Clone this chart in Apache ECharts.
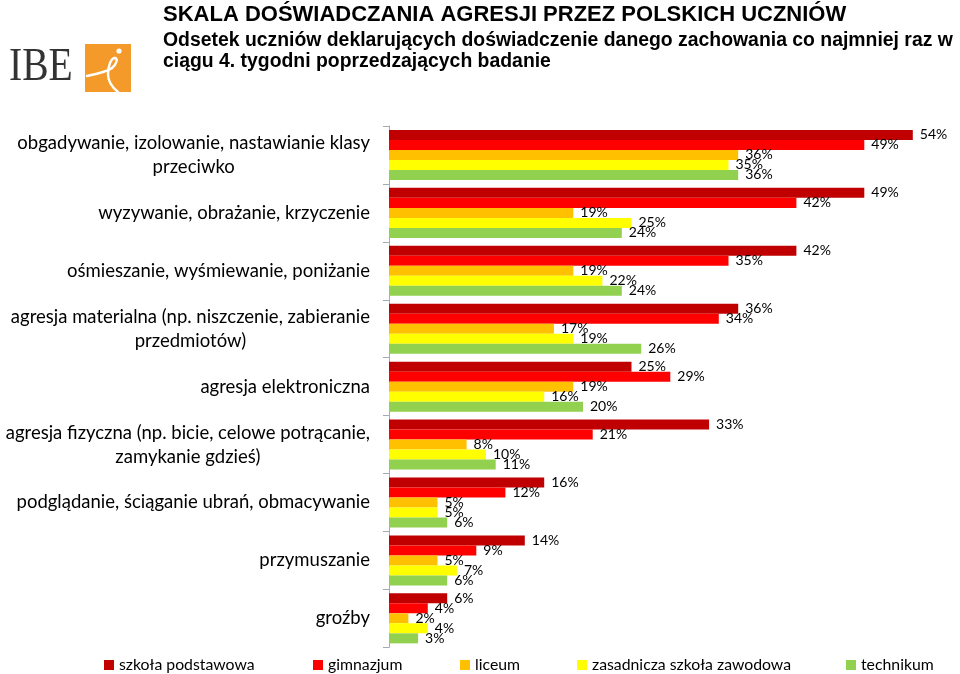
<!DOCTYPE html>
<html><head><meta charset="utf-8">
<script src="https://cdn.jsdelivr.net/npm/echarts@6/dist/echarts.min.js"></script>
<style>html,body{margin:0;padding:0;background:#fff}#c{width:960px;height:674px}</style>
</head><body><div id="c"></div>
<script>
const categories = [
  'obgadywanie, izolowanie, nastawianie klasy przeciwko',
  'wyzywanie, obrażanie, krzyczenie',
  'ośmieszanie, wyśmiewanie, poniżanie',
  'agresja materialna (np. niszczenie, zabieranie przedmiotów)',
  'agresja elektroniczna',
  'agresja fizyczna (np. bicie, celowe potrącanie, zamykanie gdzieś)',
  'podglądanie, ściąganie ubrań, obmacywanie',
  'przymuszanie',
  'groźby'
];
const seriesNames = ['szkoła podstawowa', 'gimnazjum', 'liceum', 'zasadnicza szkoła zawodowa', 'technikum'];
const szkolaPodstawowa = [54, 49, 42, 36, 25, 33, 16, 14, 6];
const gimnazjum        = [49, 42, 35, 34, 29, 21, 12, 9, 4];
const liceum           = [36, 19, 19, 17, 19, 8, 5, 5, 2];
const zasadnicza       = [35, 25, 22, 19, 16, 10, 5, 7, 4];
const technikum        = [36, 24, 24, 26, 20, 11, 6, 6, 3];
const titleText = 'SKALA DOŚWIADCZANIA AGRESJI PRZEZ POLSKICH UCZNIÓW';
const subtitleLine1 = 'Odsetek uczniów deklarujących doświadczenie danego zachowania co najmniej raz w';
const subtitleLine2 = 'ciągu 4. tygodni poprzedzających badanie';

const seriesData = [szkolaPodstawowa, gimnazjum, liceum, zasadnicza, technikum];
const colors = ['#C00000', '#FF0000', '#FFC000', '#FFFF00', '#92D050'];
const legendX = [104, 313, 460, 577, 846];

const CAT_SIZE = 18.5;
const ctx = document.createElement('canvas').getContext('2d');
ctx.font = CAT_SIZE + 'px Lato';
function wrap(text, maxW) {
  const words = text.split(' ');
  const lines = [];
  let cur = '';
  for (const w of words) {
    const t = cur ? cur + ' ' + w : w;
    if (ctx.measureText(t).width > maxW && cur) { lines.push(cur); cur = w; }
    else cur = t;
  }
  if (cur) lines.push(cur);
  return lines;
}

function curve(x1, y1, c1x, c1y, c2x, c2y, x2, y2) {
  return { type: 'bezierCurve', shape: { x1: x1, y1: y1, cpx1: c1x, cpy1: c1y, cpx2: c2x, cpy2: c2y, x2: x2, y2: y2 },
    style: { fill: null, stroke: '#fff', lineWidth: 2.4, lineCap: 'round' } };
}

const chart = echarts.init(document.getElementById('c'));
chart.setOption({
  animation: false,
  backgroundColor: '#fff',
  grid: { left: 389, right: 37.5, top: 126, bottom: 26.7, containLabel: false, outerBoundsMode: 'none' },
  xAxis: { type: 'value', min: 0, max: 55, show: false },
  yAxis: {
    type: 'category', data: categories, inverse: true,
    axisLine: { lineStyle: { color: '#a6aab5', width: 1 } },
    axisTick: { show: true, length: 6, lineStyle: { color: '#a6aab5' } },
    axisLabel: {
      interval: 0, margin: 19, hideOverlap: false,
      formatter: function (v) { return wrap(v, 375).map(l => '{c|' + l + '}').join('\n'); },
      rich: { c: { align: 'center', fontSize: CAT_SIZE, fontFamily: 'Lato', color: '#000', lineHeight: 24 } }
    }
  },
  legend: seriesNames.map((n, i) => ({
    data: [n], left: legendX[i], top: 657, padding: 0, itemWidth: 10, itemHeight: 10,
    icon: 'rect', selectedMode: false,
    textStyle: { fontSize: 15.8, fontFamily: 'Lato', color: '#000' }
  })),
  series: seriesNames.map((n, i) => ({
    name: n, type: 'bar', data: seriesData[i],
    barGap: '0%', barCategoryGap: '13.6%',
    itemStyle: { color: colors[i] },
    label: { show: true, position: 'right', distance: 7, formatter: '{c}%', fontSize: 14, fontFamily: 'Lato', color: '#000' }
  })),
  graphic: [
    { type: 'text', x: 163, y: 15, style: { text: titleText, font: 'bold 22px "Liberation Sans"', fill: '#000', verticalAlign: 'middle' } },
    { type: 'text', x: 163, y: 41, style: { text: subtitleLine1, font: 'bold 19.4px "Liberation Sans"', fill: '#000', verticalAlign: 'middle' } },
    { type: 'text', x: 163, y: 62, style: { text: subtitleLine2, font: 'bold 19.4px "Liberation Sans"', fill: '#000', verticalAlign: 'middle' } },
    { type: 'text', x: 9, y: 68, scaleX: 0.86, style: { text: 'IBE', font: '46px "Liberation Serif"', fill: '#333', verticalAlign: 'middle' } },
    { type: 'rect', shape: { x: 85, y: 44, width: 46, height: 48 }, style: { fill: '#F39A2B' } },
    curve(87, 76, 97, 74, 107, 72, 112, 68),
    curve(112, 68, 117, 64, 118, 58, 115, 58),
    curve(115, 58, 111, 58, 108, 66, 108, 74),
    curve(108, 74, 108, 82, 113, 88, 118, 92),
    { type: 'circle', shape: { cx: 119, cy: 51, r: 2.6 }, style: { fill: '#fff' } }
  ]
});
</script>
</body></html>
